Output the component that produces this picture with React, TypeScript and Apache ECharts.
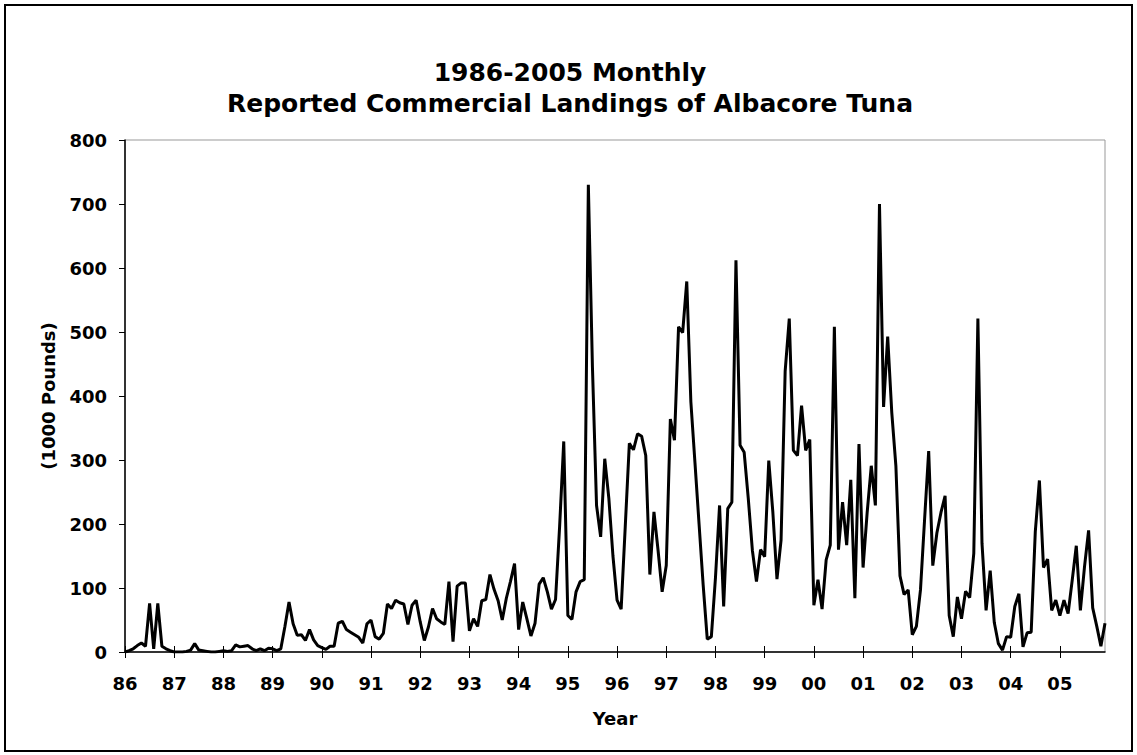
import React, { useEffect, useRef } from "react";
import * as echarts from "echarts";

const titleLines = ["1986-2005 Monthly", "Reported Commercial Landings of Albacore Tuna"];
const yearLabels = ["86","87","88","89","90","91","92","93","94","95","96","97","98","99","00","01","02","03","04","05"];

const y1986 = [0, 2, 5, 10, 14, 9, 76, 5, 76, 9, 5, 2];
const y1987 = [0, 0, 0, 1, 3, 13, 3, 2, 1, 0, 0, 1];
const y1988 = [2, 1, 2, 11, 8, 9, 10, 5, 2, 5, 2, 6];
const y1989 = [5, 2, 5, 40, 78, 44, 26, 27, 18, 35, 19, 10];
const y1990 = [7, 4, 9, 9, 45, 48, 35, 31, 27, 23, 14, 44];
const y1991 = [50, 24, 20, 29, 75, 68, 81, 77, 75, 43, 73, 81];
const y1992 = [47, 18, 39, 68, 52, 47, 43, 110, 16, 103, 108, 108];
const y1993 = [33, 52, 40, 80, 82, 121, 98, 80, 50, 84, 110, 138];
const y1994 = [35, 78, 52, 25, 45, 106, 116, 94, 67, 82, 197, 329];
const y1995 = [57, 51, 94, 110, 113, 730, 445, 229, 180, 302, 240, 150];
const y1996 = [81, 67, 196, 326, 316, 341, 337, 307, 121, 219, 159, 94];
const y1997 = [135, 364, 331, 508, 499, 579, 391, 296, 200, 105, 20, 24];
const y1998 = [116, 229, 71, 224, 234, 612, 323, 312, 240, 159, 110, 160];
const y1999 = [149, 299, 218, 114, 175, 439, 521, 315, 307, 385, 315, 332];
const y2000 = [73, 113, 67, 144, 167, 508, 160, 234, 167, 269, 84, 325];
const y2001 = [132, 218, 291, 229, 700, 383, 493, 374, 291, 119, 90, 97];
const y2002 = [27, 40, 97, 207, 314, 135, 186, 218, 244, 57, 24, 86];
const y2003 = [52, 95, 85, 154, 521, 170, 65, 127, 46, 13, 3, 24];
const y2004 = [23, 71, 91, 8, 30, 31, 188, 268, 132, 145, 65, 81];
const y2005 = [57, 81, 60, 112, 166, 65, 133, 190, 69, 40, 9, 45];

const yearly = [y1986, y1987, y1988, y1989, y1990, y1991, y1992, y1993, y1994, y1995,
  y1996, y1997, y1998, y1999, y2000, y2001, y2002, y2003, y2004, y2005];

export default function App() {
  const ref = useRef<HTMLDivElement>(null);
  useEffect(() => {
    if (!ref.current) return;
    const chart = echarts.init(ref.current, undefined, { renderer: "svg" });
    const values: number[] = [];
    const cats: string[] = [];
    yearly.forEach((arr, yi) => {
      arr.forEach((v, m) => {
        values.push(v);
        cats.push(m === 0 ? yearLabels[yi] : yearLabels[yi] + "-" + (m + 1));
      });
    });
    const labelFont = { fontFamily: "DejaVu Sans", fontWeight: "bold" as const, fontSize: 18, color: "#000" };
    const titleFont = "bold 25px 'DejaVu Sans'";
    const tickShow = (idx: number) => idx % 12 === 0;
    chart.setOption({
      animation: false,
      backgroundColor: "#fff",
      graphic: [
        {
          type: "rect",
          shape: { x: 5, y: 5, width: 1127, height: 746 },
          style: { fill: "none", stroke: "#000", lineWidth: 2 },
          silent: true,
        },
        {
          type: "text",
          x: 570,
          y: 72,
          style: { text: titleLines[0], font: titleFont, fill: "#000", textAlign: "center", textVerticalAlign: "middle" },
        },
        {
          type: "text",
          x: 570,
          y: 103,
          style: { text: titleLines[1], font: titleFont, fill: "#000", textAlign: "center", textVerticalAlign: "middle" },
        },
      ],
      grid: {
        left: 125,
        right: 32,
        top: 140,
        bottom: 103,
        show: true,
        borderColor: "#999",
        borderWidth: 1,
      },
      xAxis: [
        {
          type: "category",
          data: cats,
          boundaryGap: false,
          axisLine: { show: true, lineStyle: { color: "#000", width: 1.5 } },
          axisTick: { show: true, interval: (i: number) => tickShow(i), length: 6, lineStyle: { color: "#000" } },
          axisLabel: {
            interval: (i: number) => tickShow(i),
            formatter: (v: string) => v.split("-")[0],
            margin: 22,
            ...labelFont,
          },
          splitLine: { show: false },
          name: "Year",
          nameLocation: "middle",
          nameGap: 57,
          nameTextStyle: labelFont,
        },
        {
          type: "category",
          data: cats,
          boundaryGap: false,
          position: "bottom",
          axisLine: { show: false },
          axisTick: { show: true, inside: true, interval: (i: number) => tickShow(i), length: 6, lineStyle: { color: "#000" } },
          axisLabel: { show: false },
          splitLine: { show: false },
        },
      ],
      yAxis: {
        type: "value",
        min: 0,
        max: 800,
        interval: 100,
        axisLine: { show: true, lineStyle: { color: "#000", width: 1.5 } },
        axisTick: { show: true, length: 6, lineStyle: { color: "#000" } },
        axisLabel: { margin: 18, ...labelFont },
        splitLine: { show: false },
        name: "(1000 Pounds)",
        nameLocation: "middle",
        nameGap: 68,
        nameRotate: 90,
        nameTextStyle: labelFont,
      },
      series: [
        {
          type: "line",
          data: values,
          showSymbol: false,
          symbol: "none",
          lineStyle: { color: "#000", width: 3 },
          xAxisIndex: 0,
        },
      ],
    });
    return () => chart.dispose();
  }, []);
  return <div ref={ref} style={{ position: "absolute", left: 0, top: 0, width: 1137, height: 755 }} />;
}
